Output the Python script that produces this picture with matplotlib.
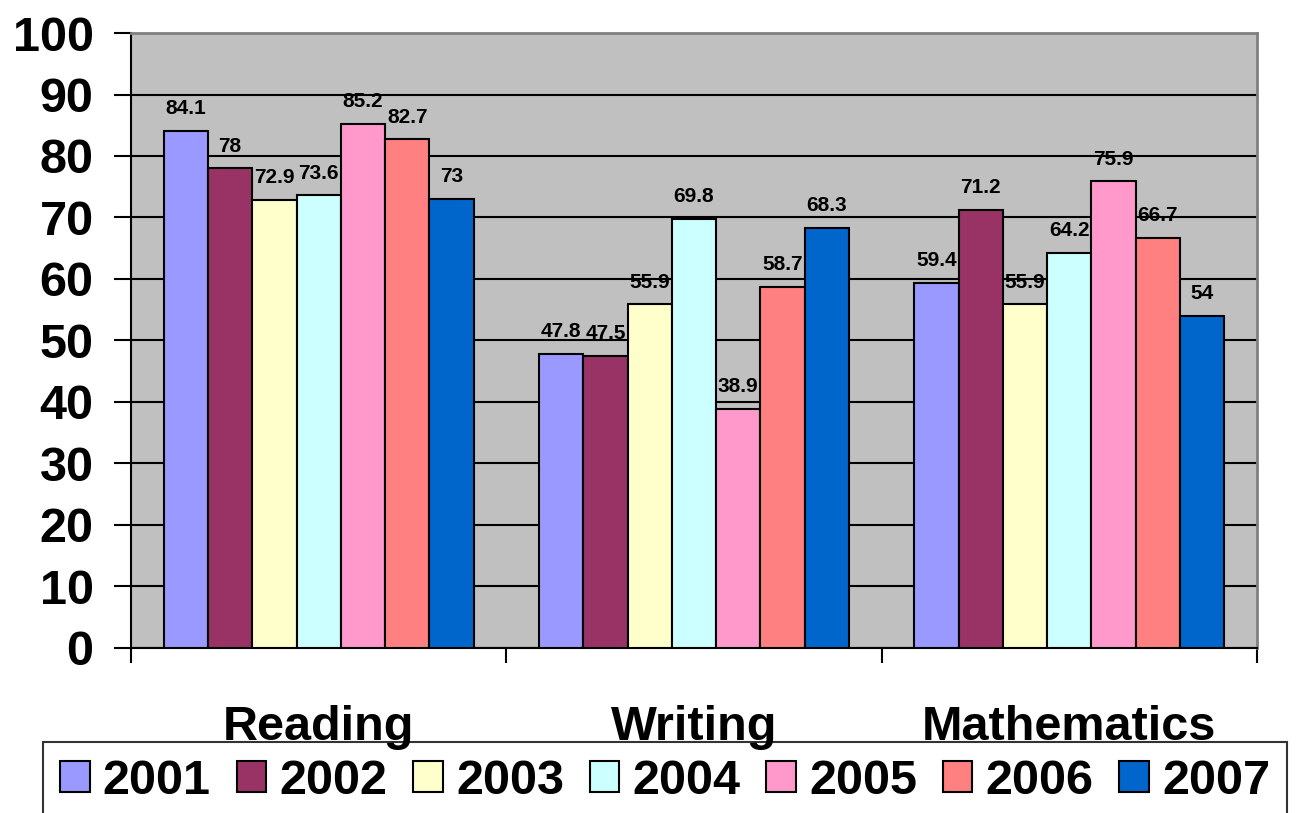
import matplotlib.pyplot as plt
import matplotlib.transforms as mtransforms
import numpy as np

plt.rcParams['font.family'] = ['Liberation Sans', 'DejaVu Sans']
plt.rcParams['font.weight'] = 'bold'

# data
subjects = ['Reading', 'Writing', 'Mathematics']
years = ['2001', '2002', '2003', '2004', '2005', '2006', '2007']
reading = [84.1, 78, 72.9, 73.6, 85.2, 82.7, 73]
writing = [47.8, 47.5, 55.9, 69.8, 38.9, 58.7, 68.3]
mathematics = [59.4, 71.2, 55.9, 64.2, 75.9, 66.7, 54]
colors = ['#9999FF', '#993366', '#FFFFCC', '#CCFFFF', '#FF99CC', '#FF8080', '#0066CC']

scores = np.array([reading, writing, mathematics])  # subject x year

fig = plt.figure(figsize=(13, 8.13), dpi=100)
ax = fig.add_axes([0.1008, 0.2030, 0.8661, 0.7564])
ax.set_facecolor('#C0C0C0')

w = 0.118
centers = np.arange(len(subjects)) + 0.5
for j, yr in enumerate(years):
    xs = centers + (j - 3) * w
    vals = scores[:, j]
    ax.bar(xs, vals, width=w, color=colors[j], edgecolor='black',
           linewidth=1.5, label=yr, zorder=3)
    for x, v in zip(xs, vals):
        ax.annotate(f'{v:g}', (x, v), xytext=(0, 12), textcoords='offset points',
                    ha='center', va='baseline', fontsize=15, fontweight='bold',
                    zorder=4)

ax.set_xlim(0, 3)
ax.set_ylim(0, 100)
ax.set_yticks(np.arange(0, 101, 10))
ax.yaxis.grid(True, color='black', linewidth=1.5)
ax.set_axisbelow(True)
ax.tick_params(axis='y', labelsize=35, length=12, width=1.5, pad=15, direction='out')
for lab in ax.get_yticklabels():
    lab.set_fontweight('bold')

ax.set_xticks([0, 1, 2, 3])
ax.set_xticklabels([])
ax.tick_params(axis='x', length=11, width=1.5, direction='out')

for s in ['left', 'bottom']:
    ax.spines[s].set_color('black')
    ax.spines[s].set_linewidth(1.5)
for s in ['top', 'right']:
    ax.spines[s].set_color('#808080')
    ax.spines[s].set_linewidth(2)

leg = fig.legend(loc='upper left', bbox_to_anchor=(43 / 1300, 1 - 742 / 813),
                 ncol=7, fontsize=35, frameon=True, fancybox=False,
                 handlelength=0.61, handleheight=0.61, handletextpad=0.27,
                 columnspacing=0.53, borderpad=0.35, borderaxespad=0)
leg.get_frame().set_edgecolor('black')
leg.get_frame().set_linewidth(1.5)
leg.set_zorder(1)
for t in leg.get_texts():
    t.set_fontweight('bold')

# subject names sit on top of the legend frame
for c, name in zip(centers, subjects):
    xf = fig.transFigure.inverted().transform(ax.transData.transform((c, 0)))[0]
    fig.text(xf, 1 - 740 / 813, name, ha='center', va='baseline',
             fontsize=35, fontweight='bold', zorder=10)

fig.savefig('out.png', dpi=100)
